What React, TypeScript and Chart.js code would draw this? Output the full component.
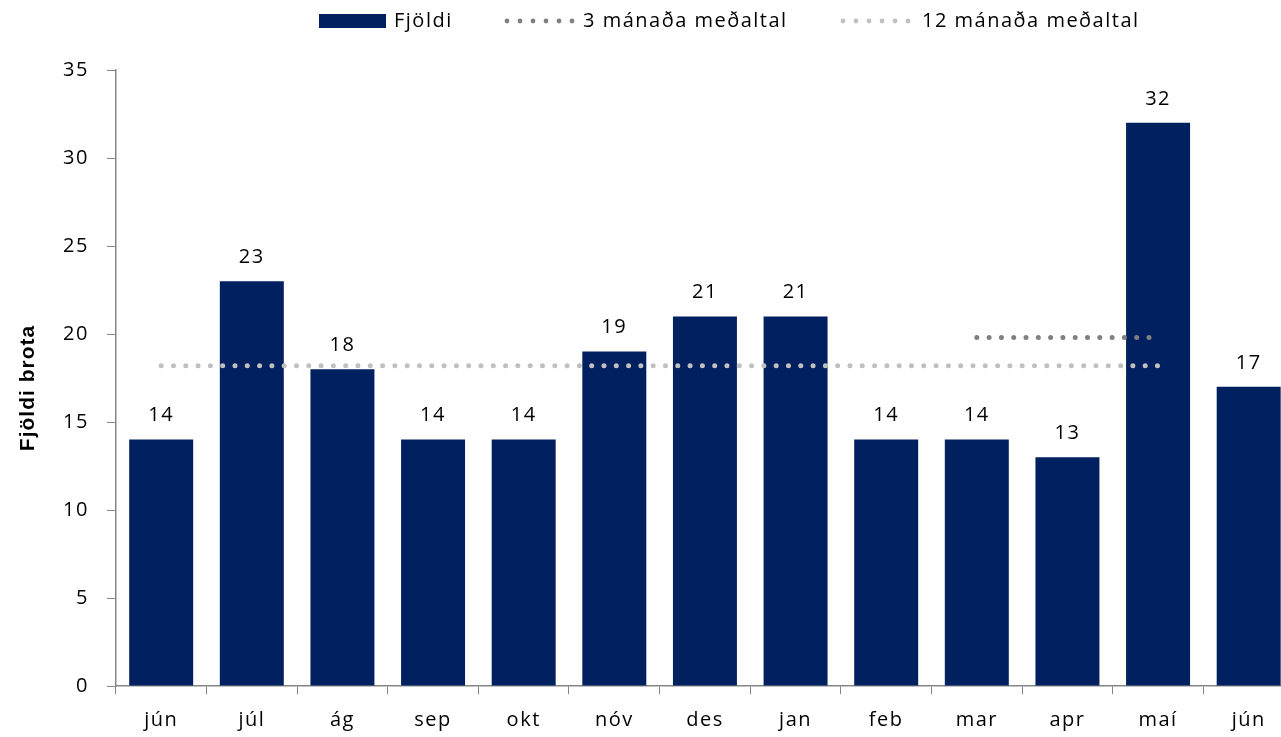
import React, { useEffect, useRef } from "react";
import { Chart, registerables } from "chart.js";

Chart.register(...registerables);

const categories = ["jún", "júl", "ág", "sep", "okt", "nóv", "des", "jan", "feb", "mar", "apr", "maí", "jún"];
const fjoldi = [14, 23, 18, 14, 14, 19, 21, 21, 14, 14, 13, 32, 17];
const avg3 = [null, null, null, null, null, null, null, null, null, 19.8, 19.8, 19.8, null];
const avg12 = [18.2, 18.2, 18.2, 18.2, 18.2, 18.2, 18.2, 18.2, 18.2, 18.2, 18.2, 18.2, null];
const yTicks = [0, 5, 10, 15, 20, 25, 30, 35];
const yTitle = "Fjöldi brota";

const NAVY = "#002060";
const DARK = "#808080";
const LIGHT = "#c0c0c0";
const FONT = "'Open Sans'";
const SPACING = "1.5px";

const spacingPlugin = {
  id: "spacing",
  beforeInit(chart: any) {
    chart.ctx.letterSpacing = SPACING;
  },
  beforeUpdate(chart: any) {
    chart.ctx.letterSpacing = SPACING;
  },
  beforeDraw(chart: any) {
    chart.ctx.letterSpacing = SPACING;
  },
};

const labelPlugin = {
  id: "barLabels",
  afterDatasetsDraw(chart: any) {
    const ctx = chart.ctx;
    const idx = chart.data.datasets.findIndex((d: any) => d.type === "bar");
    const meta = chart.getDatasetMeta(idx);
    ctx.save();
    ctx.font = `20px ${FONT}`;
    ctx.fillStyle = "#000";
    ctx.textAlign = "center";
    ctx.textBaseline = "middle";
    meta.data.forEach((bar: any, i: number) => {
      ctx.fillText(String(fjoldi[i]), bar.x, bar.y - 24);
    });
    ctx.restore();
  },
};

const legendPlugin = {
  id: "customLegend",
  afterDraw(chart: any) {
    const ctx = chart.ctx;
    const y = 21;
    ctx.save();
    ctx.font = `20px ${FONT}`;
    ctx.textBaseline = "middle";
    ctx.textAlign = "left";
    ctx.fillStyle = NAVY;
    ctx.fillRect(319, 14, 67, 14);
    ctx.fillStyle = "#000";
    ctx.fillText("Fjöldi", 394, y);
    const drawDots = (sx: number, color: string) => {
      ctx.fillStyle = color;
      for (let k = 0; k < 6; k++) {
        ctx.beginPath();
        ctx.arc(sx + k * 13, y, 2.4, 0, Math.PI * 2);
        ctx.fill();
      }
    };
    drawDots(507, DARK);
    ctx.fillStyle = "#000";
    ctx.fillText("3 mánaða meðaltal", 583, y);
    drawDots(843, LIGHT);
    ctx.fillStyle = "#000";
    ctx.fillText("12 mánaða meðaltal", 922, y);

    // y axis title
    ctx.save();
    ctx.translate(28, 388);
    ctx.rotate(-Math.PI / 2);
    ctx.textAlign = "center";
    ctx.font = `bold 21px 'Liberation Sans'`;
    ctx.letterSpacing = "1px";
    ctx.fillText(yTitle, 0, 0);
    ctx.restore();
    ctx.restore();
  },
};

export default function App() {
  const ref = useRef<HTMLCanvasElement | null>(null);
  useEffect(() => {
    document.body.style.margin = "0";
    document.body.style.overflow = "hidden";
    if (!ref.current) return;
    const chart = new Chart(ref.current, {
      type: "bar",
      data: {
        labels: categories,
        datasets: [
          {
            type: "line",
            label: "3 mánaða meðaltal",
            data: avg3 as any,
            borderColor: DARK,
            borderWidth: 5,
            borderDash: [0, 12.3],
            borderCapStyle: "round",
            pointRadius: 0,
            fill: false,
            order: 0,
          } as any,
          {
            type: "line",
            label: "12 mánaða meðaltal",
            data: avg12 as any,
            borderColor: LIGHT,
            borderWidth: 5,
            borderDash: [0, 12.3],
            borderCapStyle: "round",
            pointRadius: 0,
            fill: false,
            order: 0,
          } as any,
          {
            type: "bar",
            label: "Fjöldi",
            data: fjoldi,
            backgroundColor: NAVY,
            categoryPercentage: 1,
            barPercentage: 0.706,
            order: 1,
          },
        ],
      },
      options: {
        responsive: false,
        animation: false,
        layout: { padding: { top: 70, right: 0, left: 45, bottom: 0 } },
        plugins: {
          legend: { display: false },
          tooltip: { enabled: false },
        },
        scales: {
          x: {
            grid: {
              drawOnChartArea: false,
              drawTicks: true,
              tickLength: 8,
              color: "#868686",
              offset: true,
            },
            border: { color: "#868686", width: 1.5 },
            ticks: {
              font: { family: FONT, size: 20, lineHeight: 1 },
              color: "#000",
              padding: 16,
              maxRotation: 0,
            },
          },
          y: {
            min: 0,
            max: 35,
            afterBuildTicks(axis: any) {
              axis.ticks = yTicks.map((v) => ({ value: v }));
            },
            grid: {
              drawOnChartArea: false,
              drawTicks: true,
              tickLength: 9,
              color: "#868686",
            },
            border: { color: "#868686", width: 1.5 },
            ticks: {
              font: { family: FONT, size: 20 },
              color: "#000",
              padding: 18,
            },
          },
        },
      },
      plugins: [spacingPlugin, labelPlugin, legendPlugin],
    });
    return () => chart.destroy();
  }, []);
  return (
    <div style={{ width: 1281, height: 737, overflow: "hidden" }}>
      <canvas ref={ref} width={1294} height={746} style={{ display: "block" }} />
    </div>
  );
}
